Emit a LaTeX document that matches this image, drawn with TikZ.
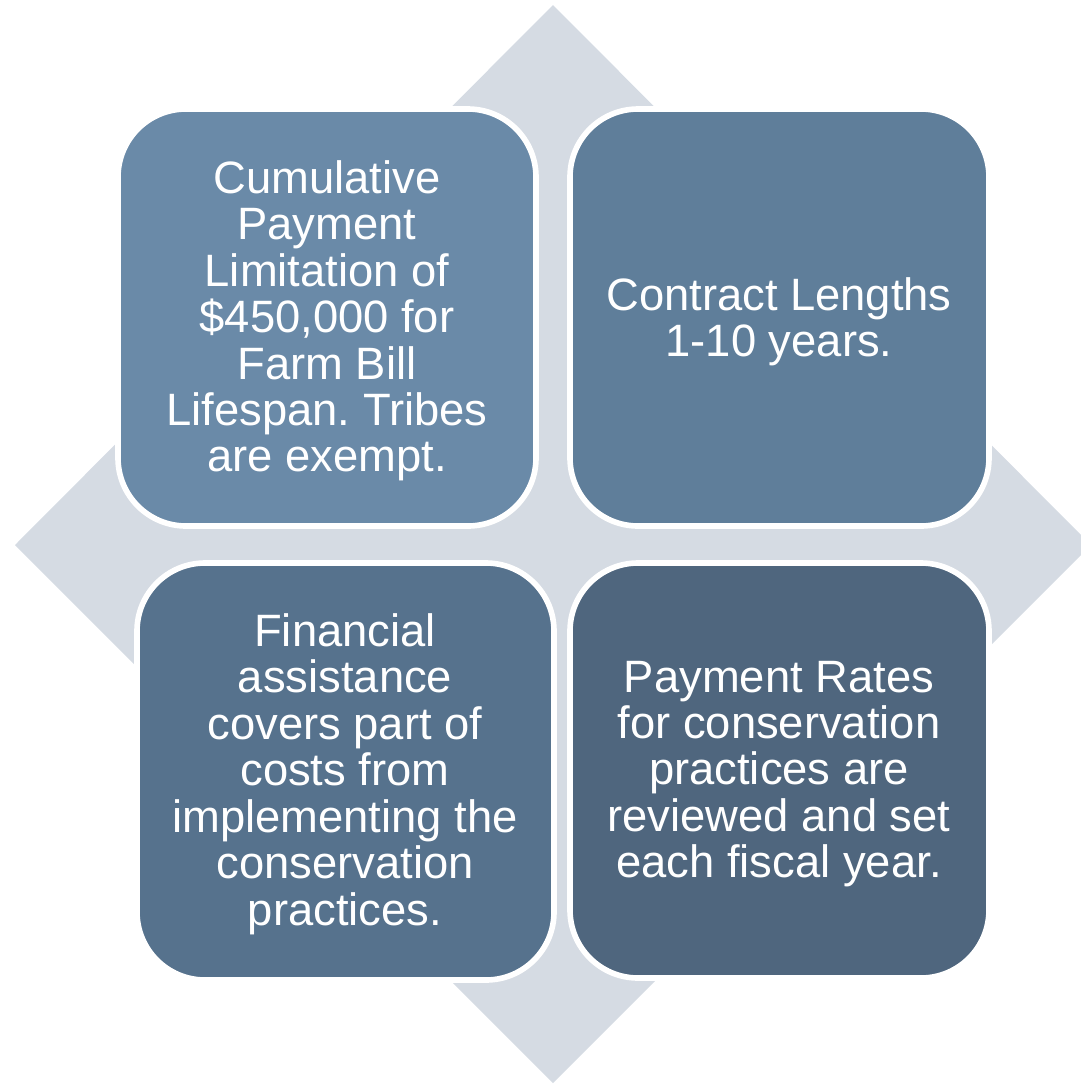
\documentclass[tikz,border=0pt]{standalone}
\usepackage{fontspec}
\setmainfont{Liberation Sans}
\frenchspacing
\definecolor{diam}{RGB}{213,219,227}
\definecolor{cTL}{RGB}{106,138,168}
\definecolor{cTR}{RGB}{95,126,154}
\definecolor{cBL}{RGB}{86,114,141}
\definecolor{cBR}{RGB}{79,102,126}
\tikzset{
  quadbox/.style={draw=white, line width=1.6pt, rounded corners=0.68cm},
  quadtext/.style={text=white, align=center, font=\fontsize{12.9pt}{13.2pt}\selectfont, inner sep=0pt}
}
\begin{document}
\begin{tikzpicture}[x=0.01cm,y=-0.01cm]
\useasboundingbox (0,0) rectangle (1081,1084);
\begin{scope}
\clip (0,0) rectangle (1081,1084);
\fill[diam] (553,5) -- (1091,545) -- (553,1083) -- (15,545) -- cycle;
\end{scope}
\draw[quadbox, fill=cTL] (118,109) rectangle (536,526);
\draw[quadbox, fill=cTR] (570,109) rectangle (989,526);
\draw[quadbox, fill=cBL] (137,563) rectangle (554,980);
\draw[quadbox, fill=cBR] (570,563) rectangle (989,978);
\node[quadtext] (tl) at (327,321) {Cumulative\\Payment\\Limitation of\\\$450,000 for\\Farm Bill\\Lifespan. Tribes\\are exempt.};
\node[quadtext] (tr) at (779,322) {Contract Lengths\\1-10 years.};
\node[quadtext] (bl) at (345,774) {Financial\\assistance\\covers part of\\costs from\\implementing the\\conservation\\practices.};
\node[quadtext] (br) at (779,774) {Payment Rates\\for conservation\\practices are\\reviewed and set\\each fiscal year.};
\end{tikzpicture}
\end{document}
